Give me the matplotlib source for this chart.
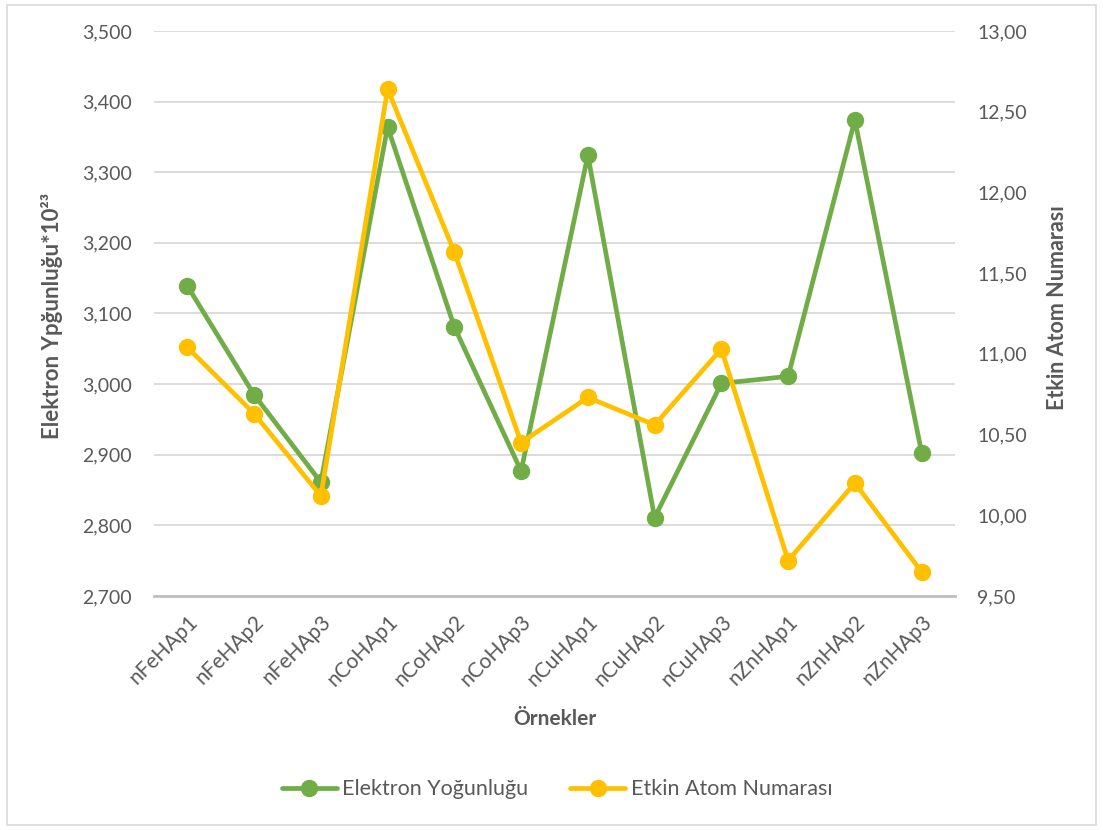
import matplotlib
matplotlib.use("Agg")
import matplotlib.pyplot as plt
from matplotlib.ticker import FuncFormatter, MultipleLocator
from matplotlib.patches import Rectangle

plt.rcParams['font.family'] = ['Lato', 'DejaVu Sans']

samples = ["nFeHAp1", "nFeHAp2", "nFeHAp3", "nCoHAp1", "nCoHAp2", "nCoHAp3",
           "nCuHAp1", "nCuHAp2", "nCuHAp3", "nZnHAp1", "nZnHAp2", "nZnHAp3"]
electron_density = [3.139, 2.985, 2.861, 3.364, 3.081, 2.877,
                    3.324, 2.811, 3.001, 3.011, 3.374, 2.903]
effective_z = [11.04, 10.63, 10.12, 12.64, 11.63, 10.45,
               10.73, 10.56, 11.03, 9.72, 10.20, 9.65]

GREEN = "#70AD47"
YELLOW = "#FFC000"
TEXT = "#595959"
GRID = "#D9D9D9"

fig = plt.figure(figsize=(11.03, 8.30), dpi=100)
fig.patches.append(Rectangle((0.006, 0.006), 0.988, 0.988, transform=fig.transFigure,
                             fill=False, edgecolor=GRID, linewidth=1.2))

ax = fig.add_axes([0.1396, 0.2819, 0.7262, 0.6808])
ax2 = ax.twinx()

x = list(range(len(samples)))
l1, = ax.plot(x, electron_density, color=GREEN, lw=3.4, marker='o', ms=11.5,
              solid_capstyle='round', label="Elektron Yoğunluğu", zorder=3)
l2, = ax2.plot(x, effective_z, color=YELLOW, lw=3.4, marker='o', ms=11.5,
               solid_capstyle='round', label="Etkin Atom Numarası", zorder=3)

ax.set_xlim(-0.5, len(samples) - 0.5)
ax.set_ylim(2.7, 3.5)
ax2.set_ylim(9.5, 13.0)
ax.yaxis.set_major_locator(MultipleLocator(0.1))
ax2.yaxis.set_major_locator(MultipleLocator(0.5))
ax.yaxis.set_major_formatter(FuncFormatter(lambda v, p: f"{v:.3f}".replace('.', ',')))
ax2.yaxis.set_major_formatter(FuncFormatter(lambda v, p: f"{v:.2f}".replace('.', ',')))

ax.grid(axis='y', color=GRID, lw=1.3)
ax.set_axisbelow(True)
for a in (ax, ax2):
    for s in a.spines.values():
        s.set_visible(False)
ax.spines['bottom'].set_visible(True)
ax.spines['bottom'].set_color("#BFBFBF")
ax.spines['bottom'].set_linewidth(2.0)

ax.set_xticks(x)
ax.set_xticklabels(samples, rotation=45, ha='right', rotation_mode='anchor')
ax.tick_params(axis='x', length=0, pad=11, labelsize=15, labelcolor=TEXT)
ax.tick_params(axis='y', length=0, pad=16, labelsize=14, labelcolor=TEXT)
ax2.tick_params(axis='y', length=0, pad=16, labelsize=14, labelcolor=TEXT)

ax.set_xlabel("Örnekler", fontsize=15, fontweight='bold', color=TEXT, labelpad=14)
ax.set_ylabel("Elektron Ypğunluğu*10²³", fontsize=16, fontweight='bold', color=TEXT)
ax.yaxis.set_label_coords(-0.114, 0.495)
ax2.set_ylabel("Etkin Atom Numarası", fontsize=15.5, fontweight='bold', color=TEXT)
ax2.yaxis.set_label_coords(1.115, 0.51)

fig.legend(handles=[l1, l2], loc='center', bbox_to_anchor=(0.505, 0.049), ncol=2,
           frameon=False, fontsize=15.5, labelcolor=TEXT, handlelength=2.55,
           columnspacing=1.95, handletextpad=0.25)

fig.savefig("out.png", dpi=100, facecolor='white')
